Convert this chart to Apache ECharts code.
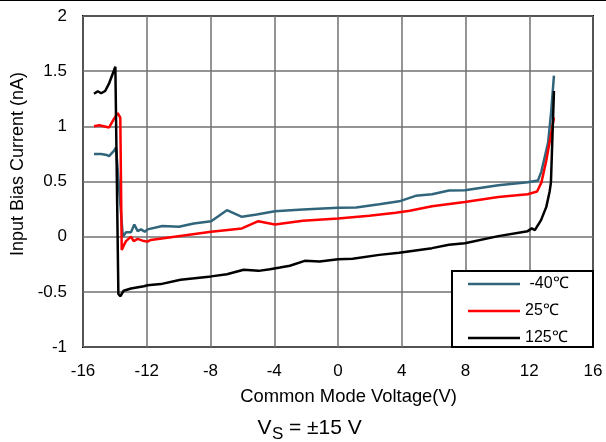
<!DOCTYPE html>
<html>
<head>
<meta charset="utf-8">
<script src="https://cdn.jsdelivr.net/npm/echarts@6/dist/echarts.min.js"></script>
<style>html,body{margin:0;padding:0;background:#fff;}#c{width:606px;height:442px;}</style>
</head>
<body>
<div id="c"></div>
<script>
var seriesNames = ['-40℃', '25℃', '125℃'];
var xTicks = [-16, -12, -8, -4, 0, 4, 8, 12, 16];
var yTicks = [-1, -0.5, 0, 0.5, 1, 1.5, 2];
var xAxisTitle = 'Common Mode Voltage(V)';
var yAxisTitle = 'Input Bias Current (nA)';

var dataM40 = [[-15.31,0.75],[-14.86,0.75],[-14.5,0.74],[-14.36,0.73],[-14.05,0.78],[-13.93,0.81],[-13.5,0.0],[-13.3,0.04],[-12.99,0.04],[-12.78,0.11],[-12.57,0.05],[-12.37,0.066],[-12.12,0.045],[-11.95,0.066],[-11.02,0.096],[-9.98,0.09],[-9.05,0.12],[-7.96,0.14],[-6.97,0.24],[-6.03,0.18],[-5.1,0.2],[-3.96,0.23],[-2.2,0.246],[0,0.263],[1.14,0.265],[2.59,0.294],[3.84,0.32],[4.87,0.37],[5.9,0.385],[6.96,0.418],[7.96,0.42],[10.06,0.466],[11.9,0.493],[12.55,0.51],[12.76,0.59],[13.18,0.85],[13.38,1.14],[13.55,1.46]];

var data25 = [[-15.31,1.0],[-14.98,1.01],[-14.36,0.99],[-14.05,1.07],[-13.82,1.12],[-13.66,1.08],[-13.57,-0.12],[-13.41,-0.07],[-13.3,-0.04],[-12.99,0.0],[-12.82,-0.04],[-12.57,-0.02],[-12.18,-0.04],[-11.95,-0.045],[-11.75,-0.03],[-7.96,0.045],[-6.03,0.075],[-5.0,0.14],[-3.96,0.11],[-2.2,0.144],[0,0.165],[1.96,0.19],[3.63,0.216],[4.5,0.234],[5.9,0.276],[7.96,0.315],[10.06,0.36],[11.9,0.385],[12.49,0.41],[12.76,0.49],[13.07,0.69],[13.38,0.94],[13.55,1.08]];

var data125 = [[-15.31,1.295],[-15.07,1.318],[-14.86,1.30],[-14.61,1.32],[-14.36,1.39],[-13.97,1.54],[-13.78,-0.52],[-13.66,-0.54],[-13.45,-0.49],[-12.99,-0.47],[-12.18,-0.45],[-11.95,-0.44],[-11.12,-0.43],[-9.88,-0.39],[-7.96,-0.36],[-6.97,-0.34],[-5.92,-0.30],[-4.98,-0.31],[-4.27,-0.295],[-3.64,-0.28],[-3.02,-0.264],[-2.09,-0.219],[-1.15,-0.225],[0,-0.204],[0.92,-0.2],[2.59,-0.165],[3.84,-0.145],[5.9,-0.104],[6.96,-0.074],[7.96,-0.06],[10.06,0.005],[11.9,0.05],[12.16,0.075],[12.35,0.06],[12.74,0.15],[13.07,0.27],[13.28,0.41],[13.36,0.49],[13.55,1.32]];

var colors = ['#31657c', '#ff0000', '#000000'];
var FONT = 'Liberation Sans, Arial, sans-serif';

var chart = echarts.init(document.getElementById('c'), null, {renderer: 'canvas'});
function mkSeries(name, data, color) {
  return {
    name: name, type: 'line', data: data, symbol: 'none', smooth: false,
    lineStyle: {color: color, width: 2.5}, itemStyle: {color: color}, z: 3, animation: false
  };
}
chart.setOption({
  animation: false,
  backgroundColor: '#fff',
  grid: {left: 83, right: 13, top: 16, bottom: 95, show: true, borderColor: '#000', borderWidth: 2, backgroundColor: 'transparent', containLabel: false},
  xAxis: {
    type: 'value', min: xTicks[0], max: xTicks[xTicks.length - 1], interval: 4,
    axisLine: {show: false}, axisTick: {show: false},
    axisLabel: {fontFamily: FONT, fontSize: 17, color: '#000', margin: 16},
    splitLine: {show: true, lineStyle: {color: '#707070', width: 1.5}}
  },
  yAxis: {
    type: 'value', min: yTicks[0], max: yTicks[yTicks.length - 1], interval: 0.5,
    axisLine: {show: false}, axisTick: {show: false},
    axisLabel: {fontFamily: FONT, fontSize: 17, color: '#000', margin: 16},
    splitLine: {show: true, lineStyle: {color: '#707070', width: 1.5}}
  },
  legend: {
    orient: 'vertical', left: 468, top: 276, itemWidth: 52, itemHeight: 14, itemGap: 11,
    z: 60, padding: 0,
    icon: 'path://M0,0L52,0L52,2.5L0,2.5Z',
    data: seriesNames,
    formatter: function (n) { return n === '-40℃' ? ' -40℃' : n; },
    textStyle: {fontFamily: FONT, fontSize: 16, color: '#000'}
  },
  graphic: [
    {type: 'rect', z: 50, shape: {x: 452, y: 271, width: 141, height: 76}, style: {fill: '#fff', stroke: '#000', lineWidth: 2}},
    {type: 'line', z: 50, shape: {x1: 0, y1: 0.5, x2: 606, y2: 0.5}, style: {stroke: '#000', lineWidth: 1}},
    {type: 'text', z: 50, x: 348.5, y: 397, style: {text: xAxisTitle, font: '18.4px ' + FONT, fill: '#000', textAlign: 'center', textVerticalAlign: 'middle'}},
    {type: 'text', z: 50, x: 18, y: 164, rotation: Math.PI / 2, style: {text: yAxisTitle, font: '18px ' + FONT, fill: '#000', textAlign: 'center', textVerticalAlign: 'middle'}},
    {type: 'text', z: 50, x: 257.5, y: 428.5, style: {text: 'V', font: '21px ' + FONT, fill: '#000', textVerticalAlign: 'middle'}},
    {type: 'text', z: 50, x: 272, y: 434.5, style: {text: 'S', font: '17px ' + FONT, fill: '#000', textVerticalAlign: 'middle'}},
    {type: 'text', z: 50, x: 289, y: 428.5, style: {text: '= ±15 V', font: '21px ' + FONT, fill: '#000', textVerticalAlign: 'middle'}}
  ],
  series: [
    mkSeries(seriesNames[0], dataM40, colors[0]),
    mkSeries(seriesNames[1], data25, colors[1]),
    mkSeries(seriesNames[2], data125, colors[2])
  ]
});
</script>
</body>
</html>
